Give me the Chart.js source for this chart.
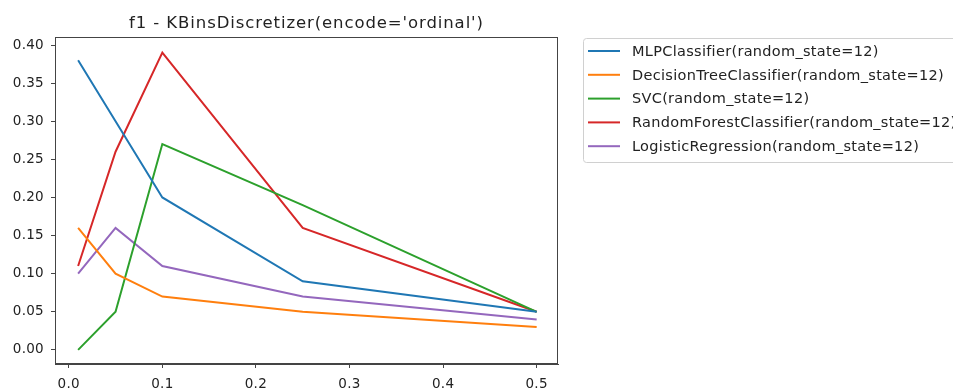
<!DOCTYPE html>
<html>
<head>
<meta charset="utf-8">
<script src="https://cdn.jsdelivr.net/npm/chart.js@4"></script>
<style>
  html, body { margin: 0; padding: 0; background: #fff; }
  #wrap { width: 953px; height: 392px; }
</style>
</head>
<body>
<div id="wrap"><canvas id="c" width="953" height="392"></canvas></div>
<script>
// valores
const bins = [0.01, 0.05, 0.1, 0.25, 0.5];
const mlp = [0.38, 0.30, 0.20, 0.09, 0.05];
const arvore = [0.16, 0.10, 0.07, 0.05, 0.03];
const svc = [0.00, 0.05, 0.27, 0.19, 0.05];
const floresta = [0.11, 0.26, 0.39, 0.16, 0.05];
const logistica = [0.10, 0.16, 0.11, 0.07, 0.04];
const nomes = [
  'MLPClassifier(random_state=12)',
  'DecisionTreeClassifier(random_state=12)',
  'SVC(random_state=12)',
  'RandomForestClassifier(random_state=12)',
  'LogisticRegression(random_state=12)'
];
const xTicks = [0, 0.1, 0.2, 0.3, 0.4, 0.5];
const yTicks = [0, 0.05, 0.1, 0.15, 0.2, 0.25, 0.3, 0.35, 0.4];
const titulo = "f1 - KBinsDiscretizer(encode='ordinal')";

const cores = ['#1f77b4', '#ff7f0e', '#2ca02c', '#d62728', '#9467bd'];
const series = [mlp, arvore, svc, floresta, logistica];
const fonte = 'DejaVu Sans';

const datasets = series.map((s, i) => ({
  label: nomes[i],
  data: s.map((v, j) => ({ x: bins[j], y: v })),
  borderColor: cores[i],
  backgroundColor: cores[i],
  borderWidth: 2,
  pointRadius: 0,
  tension: 0,
  fill: false
}));

// moldura, titulo e legenda no estilo matplotlib
const extras = {
  id: 'extras',
  beforeDraw(chart) {
    chart.ctx.letterSpacing = '0.3px';
  },
  afterDraw(chart) {
    const ctx = chart.ctx;
    const a = chart.chartArea;
    ctx.save();
    ctx.strokeStyle = '#444';
    ctx.lineWidth = 1;
    ctx.strokeRect(a.left + 0.5, a.top + 0.5, a.right - a.left - 1, a.bottom - a.top - 1);

    ctx.fillStyle = '#222';
    ctx.font = '16.5px ' + fonte;
    ctx.letterSpacing = '0.9px';
    ctx.textAlign = 'center';
    ctx.textBaseline = 'alphabetic';
    ctx.fillText(titulo, (a.left + a.right) / 2, 28);

    // legenda
    const lx = 583, ly = 38, lw = 380, lh = 124;
    ctx.strokeStyle = '#d0d0d0';
    ctx.fillStyle = '#fff';
    ctx.beginPath();
    ctx.roundRect(lx + 0.5, ly + 0.5, lw, lh, 3);
    ctx.fill();
    ctx.stroke();
    ctx.font = '14.5px ' + fonte;
    ctx.letterSpacing = '0.3px';
    ctx.textAlign = 'left';
    ctx.textBaseline = 'middle';
    chart.data.datasets.forEach((d, i) => {
      const y = 51 + i * 23.8;
      ctx.strokeStyle = d.borderColor;
      ctx.lineWidth = 2;
      ctx.beginPath();
      ctx.moveTo(588, y);
      ctx.lineTo(620, y);
      ctx.stroke();
      ctx.fillStyle = '#222';
      ctx.fillText(d.label, 632, y + 1);
    });
    ctx.restore();
  }
};

new Chart(document.getElementById('c'), {
  type: 'line',
  data: { datasets: datasets },
  options: {
    responsive: false,
    animation: false,
    layout: { padding: { left: 0, top: 37, right: 953 - 558, bottom: 0 } },
    plugins: {
      legend: { display: false },
      title: { display: false },
      tooltip: { enabled: false }
    },
    scales: {
      x: {
        type: 'linear',
        min: -0.0147,
        max: 0.5228,
        afterBuildTicks: (s) => { s.ticks = xTicks.map(v => ({ value: v })); },
        afterFit: (s) => { s.height = 28; },
        grid: { display: true, drawOnChartArea: false, drawTicks: true, tickLength: 4, color: '#444' },
        border: { display: true, color: '#444' },
        ticks: {
          color: '#222',
          padding: 8,
          maxRotation: 0,
          font: { family: fonte, size: 13.5 },
          callback: (v) => v.toFixed(1)
        }
      },
      y: {
        type: 'linear',
        min: -0.0185,
        max: 0.4105,
        afterBuildTicks: (s) => { s.ticks = yTicks.map(v => ({ value: v })); },
        afterFit: (s) => { s.width = 55; },
        grid: { display: true, drawOnChartArea: false, drawTicks: true, tickLength: 4, color: '#444' },
        border: { display: true, color: '#444' },
        ticks: {
          color: '#222',
          padding: 7,
          font: { family: fonte, size: 13.5 },
          callback: (v) => v.toFixed(2)
        }
      }
    }
  },
  plugins: [extras]
});
</script>
</body>
</html>
